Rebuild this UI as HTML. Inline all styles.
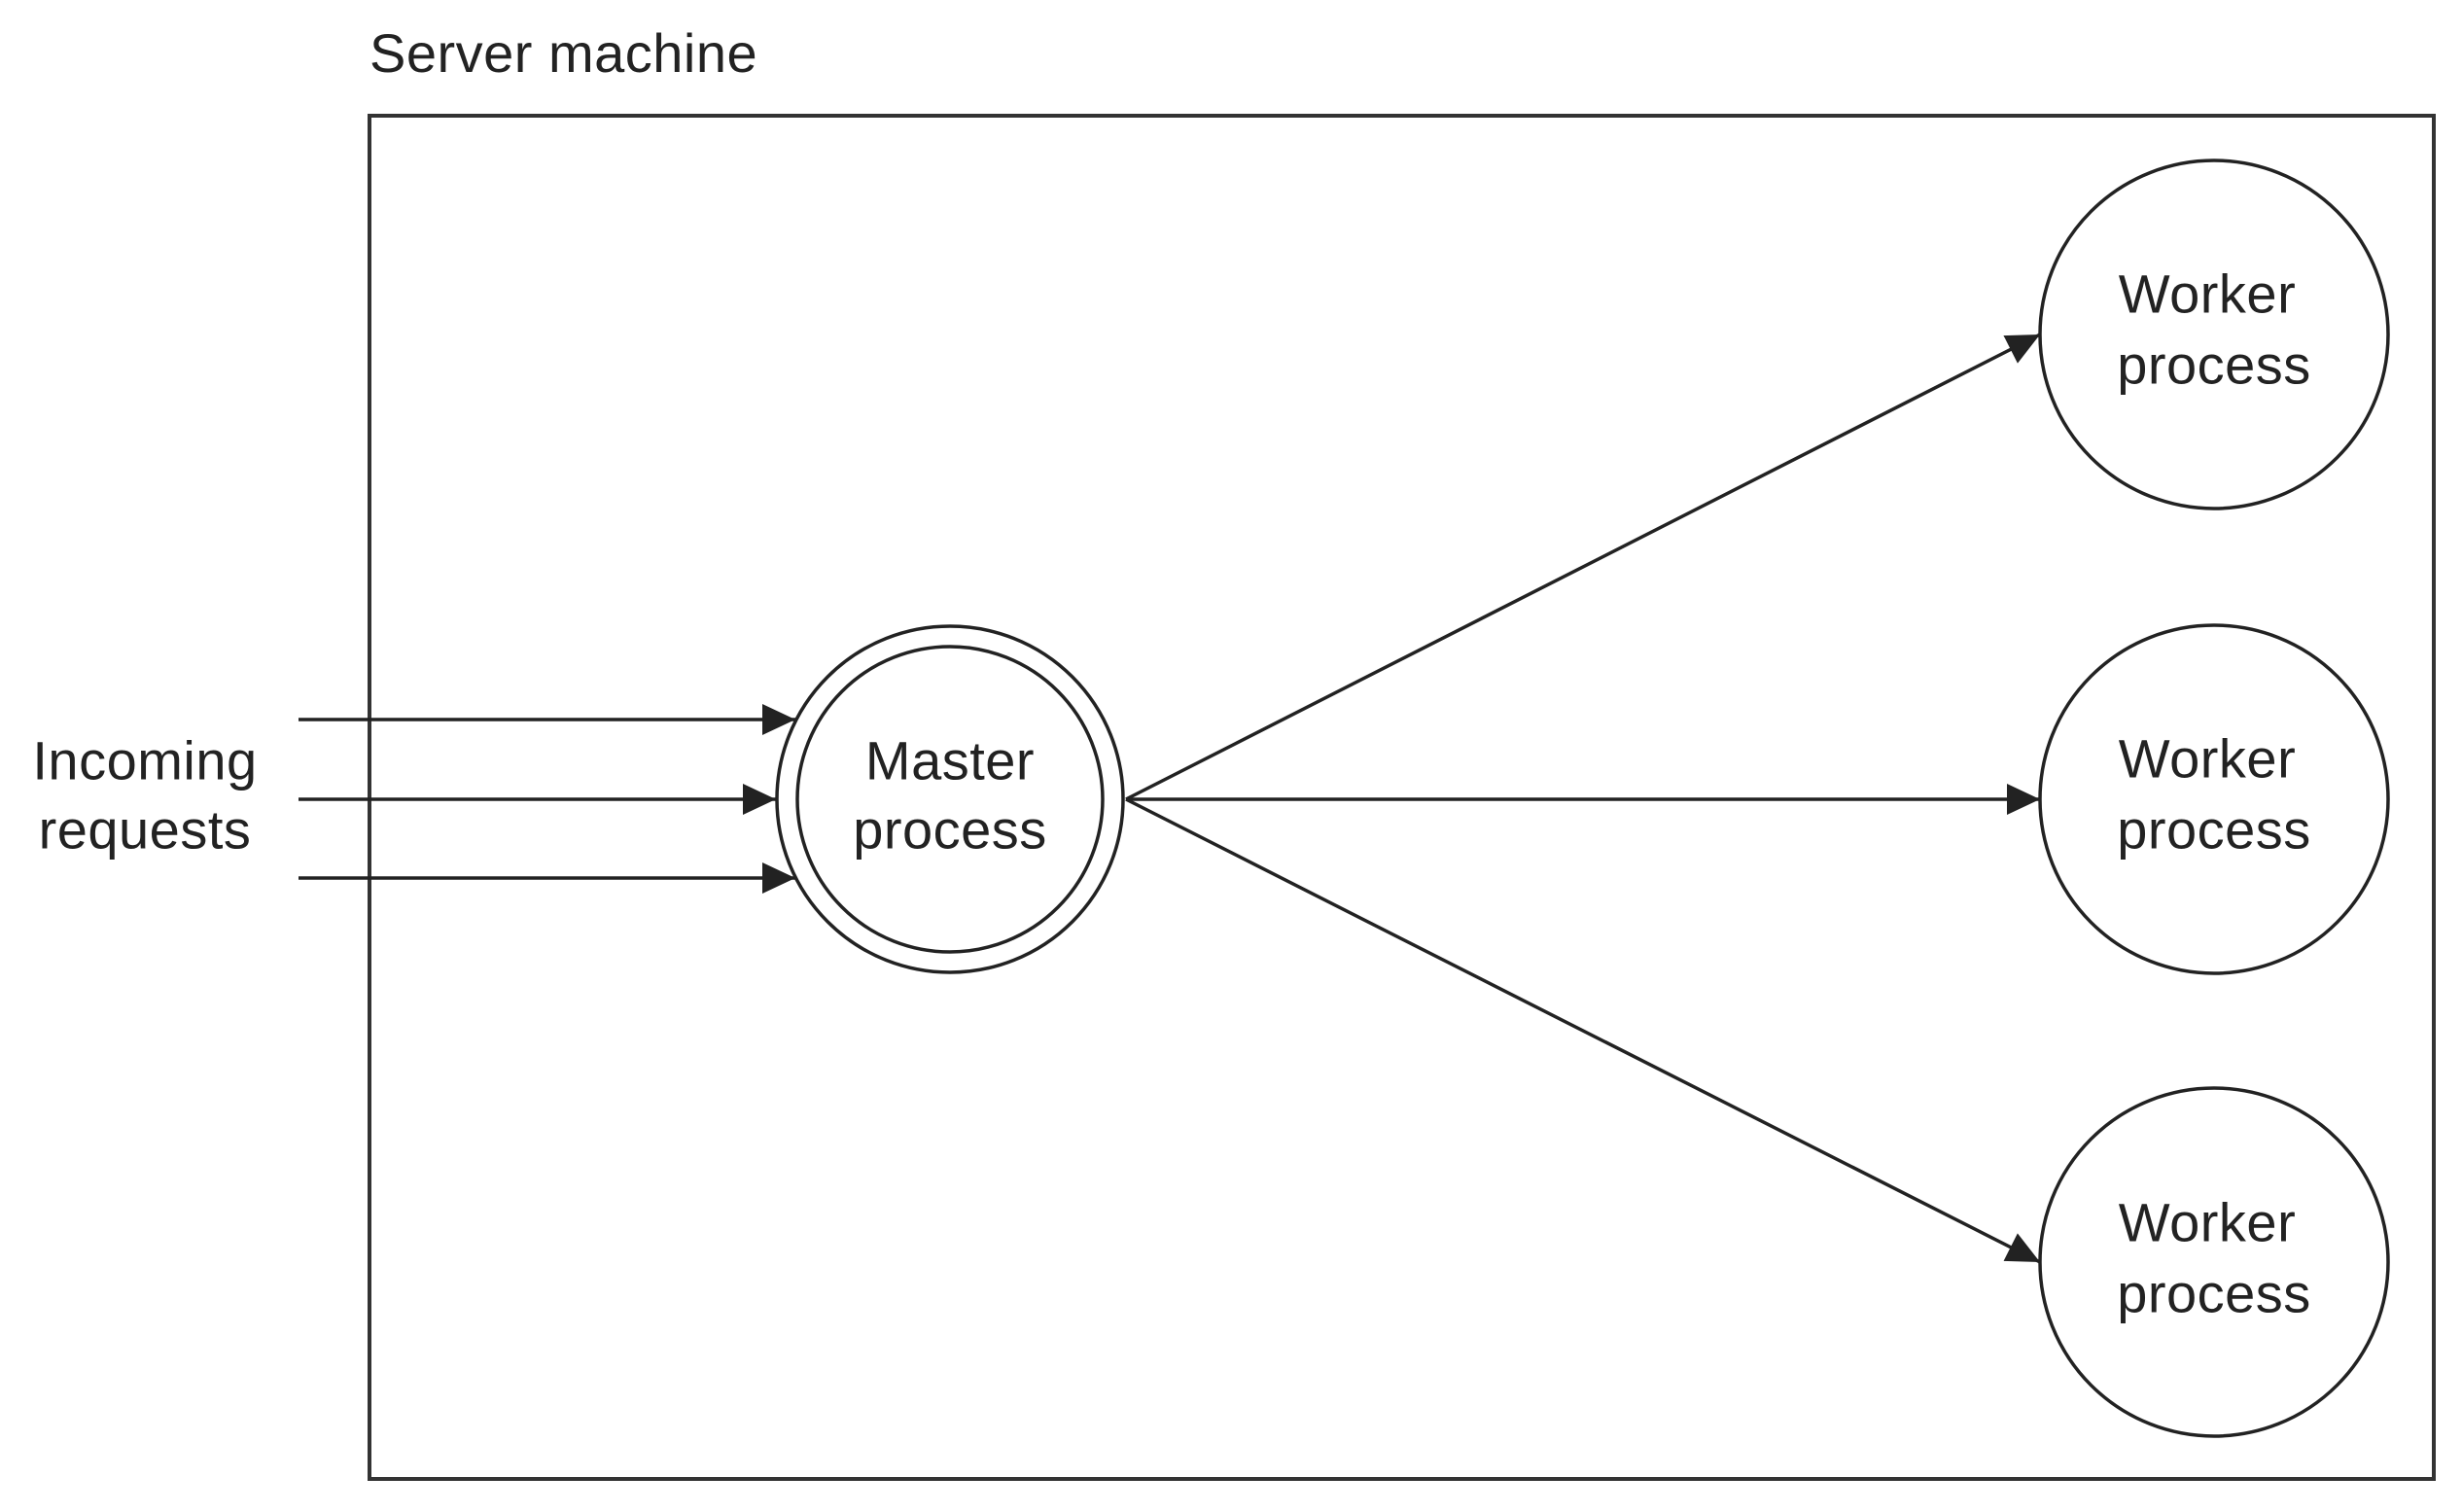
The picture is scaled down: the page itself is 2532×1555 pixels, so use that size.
<!DOCTYPE html>
<html><head><meta charset="utf-8"><style>
html,body{margin:0;padding:0;background:#fff;}
svg{display:block;}
text{font-family:"Liberation Sans",sans-serif;fill:#222;font-size:56px;letter-spacing:0.5px;}
</style></head><body>
<svg width="2532" height="1555" viewBox="0 0 2532 1555" xmlns="http://www.w3.org/2000/svg">
<defs>
<marker id="a" markerWidth="34" markerHeight="32" refX="34" refY="16" orient="auto" markerUnits="userSpaceOnUse">
<path d="M0,0 L34,16 L0,32 Z" fill="#222"/>
</marker>
</defs>
<text x="380" y="74">Server machine</text>
<rect x="380" y="119" width="2123" height="1402" fill="none" stroke="#333" stroke-width="4"/>
<g stroke="#222" stroke-width="3.5" fill="none">
<line x1="307" y1="740" x2="818" y2="740" marker-end="url(#a)"/>
<line x1="307" y1="822" x2="798" y2="822" marker-end="url(#a)"/>
<line x1="307" y1="903" x2="818" y2="903" marker-end="url(#a)"/>
<circle cx="977" cy="822" r="178"/>
<circle cx="977" cy="822" r="157"/>
<circle cx="2277" cy="344" r="179"/>
<circle cx="2277" cy="822" r="179"/>
<circle cx="2277" cy="1298" r="179"/>
<line x1="1158" y1="822" x2="2098" y2="344" marker-end="url(#a)"/>
<line x1="1158" y1="822" x2="2098" y2="822" marker-end="url(#a)"/>
<line x1="1158" y1="822" x2="2098" y2="1298" marker-end="url(#a)"/>
</g>
<g text-anchor="middle" dominant-baseline="central">
<text x="149" y="782">Incoming</text><text x="149" y="853">requests</text>
<text x="977" y="782">Master</text><text x="977" y="853">process</text>
<text x="2270" y="302">Worker</text><text x="2277" y="375">process</text>
<text x="2270" y="780">Worker</text><text x="2277" y="853">process</text>
<text x="2270" y="1257">Worker</text><text x="2277" y="1330">process</text>
</g>
</svg>
</body></html>
